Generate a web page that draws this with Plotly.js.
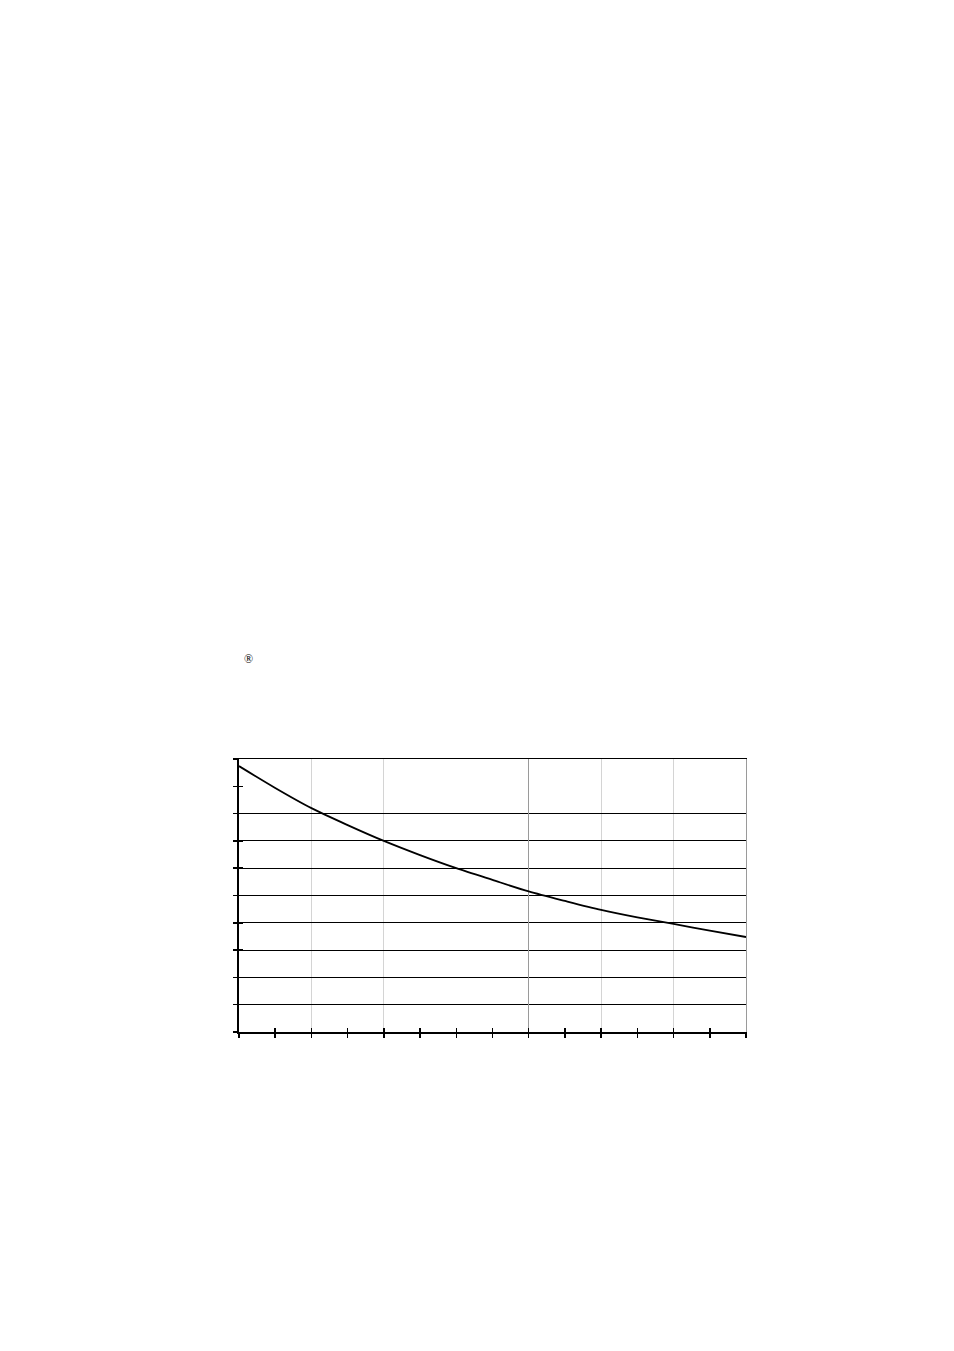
<!DOCTYPE html>
<html>
<head>
<meta charset="utf-8">
<script src="https://cdn.plot.ly/plotly-3.0.1.min.js"></script>
<style>html,body{margin:0;padding:0;background:#fff;}#chart{width:954px;height:1351px;}</style>
</head>
<body>
<div id="chart"></div>
<script>
// Data
var xValues = [0, 1, 2, 3, 4, 5, 6, 7, 8, 9, 10, 11, 12, 13, 14];
var yValues = [9.74, 8.94, 8.20, 7.58, 7.00, 6.48, 6.00, 5.57, 5.15, 4.80, 4.47, 4.20, 3.96, 3.71, 3.48];
var xTicks = [0, 1, 2, 3, 4, 5, 6, 7, 8, 9, 10, 11, 12, 13, 14];
var yTicks = [0, 1, 2, 3, 4, 5, 6, 7, 8, 9, 10];
var xLightGrid = [2, 4, 10, 12];
var xDarkGrid = [8];
var yGrid = [1, 2, 3, 4, 5, 6, 7, 8];
var markText = '\u00AE\uFE0E';

var traces = [
  {x: xValues, y: yValues, type: 'scatter', mode: 'lines',
   line: {color: '#000', width: 1.8, shape: 'spline', smoothing: 0.8},
   hoverinfo: 'skip', showlegend: false, xaxis: 'x', yaxis: 'y'},
  {x: [], y: [], type: 'scatter', mode: 'lines', showlegend: false, xaxis: 'x2', yaxis: 'y2'},
  {x: [], y: [], type: 'scatter', mode: 'lines', showlegend: false, xaxis: 'x3', yaxis: 'y3'},
  {x: [], y: [], type: 'scatter', mode: 'lines', showlegend: false, xaxis: 'x4', yaxis: 'y4'}
];

var common = {showticklabels: false, zeroline: false, fixedrange: true};

var layout = {
  width: 954, height: 1351,
  margin: {l: 239, r: 208, t: 759, b: 319, pad: 0},
  paper_bgcolor: '#fff', plot_bgcolor: 'rgba(0,0,0,0)',
  showlegend: false,
  xaxis: Object.assign({}, common, {
    range: [0, 14], tickmode: 'array', tickvals: xTicks,
    ticks: 'outside', ticklen: 4, tickwidth: 1.5, tickcolor: '#000',
    showline: true, linecolor: '#000', linewidth: 2, showgrid: false, anchor: 'y'
  }),
  yaxis: Object.assign({}, common, {
    range: [0, 10], tickmode: 'array', tickvals: yTicks,
    ticks: 'outside', ticklen: 4, tickwidth: 1.5, tickcolor: '#000',
    showline: true, linecolor: '#000', linewidth: 2, showgrid: false, anchor: 'x'
  }),
  // light vertical gridlines + black top frame line
  xaxis2: Object.assign({}, common, {
    overlaying: 'x', anchor: 'y2', side: 'top', range: [0, 14], tickmode: 'array', tickvals: xLightGrid,
    ticks: '', showline: true, linecolor: '#000', linewidth: 1.2,
    showgrid: true, gridcolor: '#d4d4d4', gridwidth: 1
  }),
  yaxis2: Object.assign({}, common, {
    overlaying: 'y', anchor: 'x2', range: [0, 10], tickmode: 'array', tickvals: yTicks,
    ticks: 'inside', ticklen: 4, tickwidth: 1.5, tickcolor: '#000', showline: false, showgrid: false
  }),
  // inward x ticks + black horizontal gridlines
  xaxis3: Object.assign({}, common, {
    overlaying: 'x', anchor: 'y3', range: [0, 14], tickmode: 'array', tickvals: xTicks,
    ticks: 'inside', ticklen: 4, tickwidth: 1.5, tickcolor: '#000', showline: false, showgrid: false
  }),
  yaxis3: Object.assign({}, common, {
    overlaying: 'y', anchor: 'x3', range: [0, 10], tickmode: 'array', tickvals: yGrid,
    ticks: '', showline: false, showgrid: true, gridcolor: '#000', gridwidth: 1
  }),
  // dark vertical gridline + gray right frame line
  xaxis4: Object.assign({}, common, {
    overlaying: 'x', anchor: 'y4', range: [0, 14], tickmode: 'array', tickvals: xDarkGrid,
    ticks: '', showline: false, showgrid: true, gridcolor: '#9a9a9a', gridwidth: 1
  }),
  yaxis4: Object.assign({}, common, {
    overlaying: 'y', anchor: 'x4', side: 'right', range: [0, 10], tickmode: 'array', tickvals: [],
    ticks: '', showline: true, linecolor: '#9a9a9a', linewidth: 1.2, showgrid: false
  }),
  annotations: [
    {text: markText, xref: 'paper', yref: 'paper', x: 0.0197, y: 1.368,
     showarrow: false, xanchor: 'center', yanchor: 'middle',
     font: {family: 'Liberation Serif', size: 12, color: '#000'}}
  ]
};

Plotly.newPlot('chart', traces, layout, {staticPlot: true, displayModeBar: false});
</script>
</body>
</html>
